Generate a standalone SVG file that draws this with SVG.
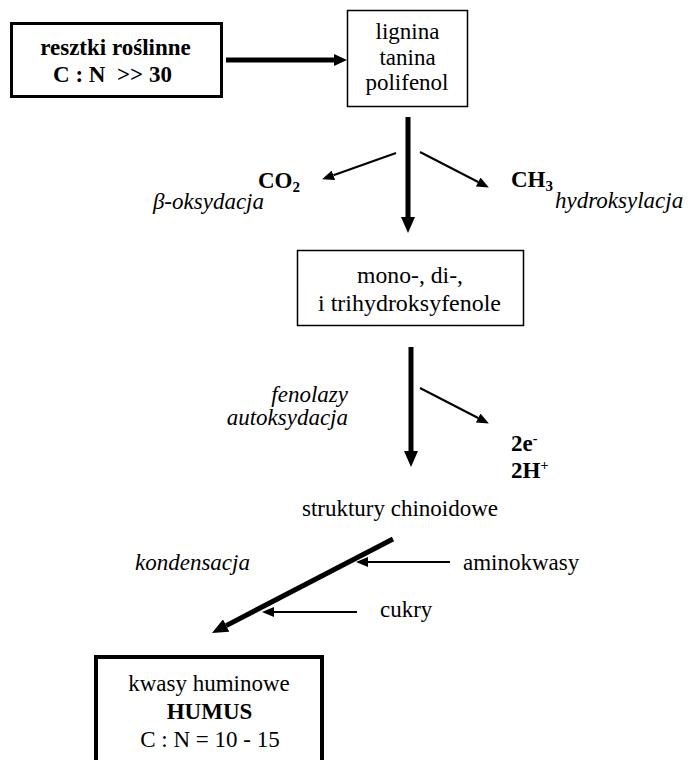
<svg xmlns="http://www.w3.org/2000/svg" width="688" height="760" viewBox="0 0 688 760">
  <style>
    text { font-family: "Liberation Serif", "Times New Roman", serif; font-size: 23px; fill: #000; }
    .c { text-anchor: middle; }
    .e { text-anchor: end; }
    .b { font-weight: bold; }
    .i { font-style: italic; }
    .box { fill: #fff; stroke: #000; }
    .thick { stroke: #000; stroke-width: 5; fill: none; }
    .thin { stroke: #000; stroke-width: 2; fill: none; }
  </style>
  <defs>
    <marker id="headL" markerUnits="userSpaceOnUse" markerWidth="16" markerHeight="14" refX="0" refY="7" orient="auto">
      <path d="M0,0 L16,7 L0,14 Z" fill="#000"/>
    </marker>
    <marker id="headM" markerUnits="userSpaceOnUse" markerWidth="13" markerHeight="12" refX="0" refY="6" orient="auto">
      <path d="M0,0 L13,6 L0,12 Z" fill="#000"/>
    </marker>
    <marker id="headS" markerUnits="userSpaceOnUse" markerWidth="12" markerHeight="10" refX="0" refY="5" orient="auto">
      <path d="M0,0 L12,5 L0,10 Z" fill="#000"/>
    </marker>
  </defs>

  <!-- connectors -->
  <g id="connectors">
    <line class="thick" x1="226" y1="60" x2="334" y2="60" stroke-width="4" marker-end="url(#headM)"/>
    <line class="thick" x1="408" y1="117" x2="408" y2="217" marker-end="url(#headL)"/>
    <line class="thin" x1="396" y1="153" x2="333.4" y2="175.3" marker-end="url(#headS)"/>
    <line class="thin" x1="420" y1="152" x2="478.2" y2="182" marker-end="url(#headS)"/>
    <line class="thick" x1="411" y1="347" x2="411" y2="451" marker-end="url(#headL)"/>
    <line class="thin" x1="420" y1="388" x2="478.2" y2="418" marker-end="url(#headS)"/>
    <line class="thick" x1="393" y1="539" x2="226.2" y2="625.6" stroke-width="6" marker-end="url(#headL)"/>
    <line class="thin" x1="450" y1="562" x2="368" y2="562" marker-end="url(#headS)"/>
    <line class="thin" x1="357" y1="612" x2="274" y2="612" marker-end="url(#headS)"/>
  </g>

  <!-- plant residues -->
  <g id="resztki">
    <rect class="box" x="11.5" y="23.5" width="210" height="73" stroke-width="3"/>
    <text class="c b" x="115.5" y="55" font-size="23.5">resztki roślinne</text>
    <text class="c b" x="112.5" y="82" font-size="23.5" xml:space="preserve">C : N  &gt;&gt; 30</text>
  </g>

  <!-- lignin / tannin / polyphenol -->
  <g id="lignina">
    <rect class="box" x="347.5" y="10.5" width="120" height="96" stroke-width="1.5"/>
    <text class="c" x="407.5" y="39" font-size="21">lignina</text>
    <text class="c" x="407.5" y="65" font-size="21">tanina</text>
    <text class="c" x="407" y="90" font-size="21">polifenol</text>
  </g>

  <g id="co2">
    <text class="b" x="258" y="188" font-size="22">CO<tspan font-size="15" dy="4">2</tspan></text>
    <text class="i e" x="264" y="209">β-oksydacja</text>
  </g>

  <g id="ch3">
    <text class="b" x="511" y="187" font-size="22">CH<tspan font-size="15" dy="4">3</tspan></text>
    <text class="i" x="555" y="208" font-size="23.5">hydroksylacja</text>
  </g>

  <!-- hydroxyphenols -->
  <g id="fenole">
    <rect class="box" x="297.5" y="250.5" width="226" height="75" stroke-width="1.5"/>
    <text class="c" x="410" y="283" font-size="24" textLength="106" lengthAdjust="spacingAndGlyphs">mono-, di-,</text>
    <text class="c" x="409.5" y="311" font-size="24.5" textLength="183" lengthAdjust="spacingAndGlyphs">i trihydroksyfenole</text>
  </g>

  <g id="enzymy">
    <text class="i e" x="348" y="402">fenolazy</text>
    <text class="i e" x="348" y="425">autoksydacja</text>
  </g>

  <g id="produkty">
    <text class="b" x="511" y="451" font-size="21">2e<tspan font-size="14" dy="-8">-</tspan></text>
    <text class="b" x="511" y="478" font-size="21">2H<tspan font-size="14" dy="-8">+</tspan></text>
  </g>

  <g id="chinoidy">
    <text class="c" x="400" y="516">struktury chinoidowe</text>
  </g>

  <g id="kondensacja">
    <text class="i" x="135" y="570">kondensacja</text>
  </g>

  <g id="aminokwasy">
    <text x="463" y="570">aminokwasy</text>
  </g>

  <g id="cukry">
    <text x="380" y="617" font-size="20">cukry</text>
  </g>

  <!-- humic acids -->
  <g id="humus">
    <rect class="box" x="96" y="657" width="226" height="110" stroke-width="4"/>
    <text class="c" x="209" y="691" font-size="24">kwasy huminowe</text>
    <text class="c b" x="209.5" y="719" font-size="24.5">HUMUS</text>
    <text class="c" x="210" y="746.5" font-size="23.5">C : N = 10 - 15</text>
  </g>
</svg>
